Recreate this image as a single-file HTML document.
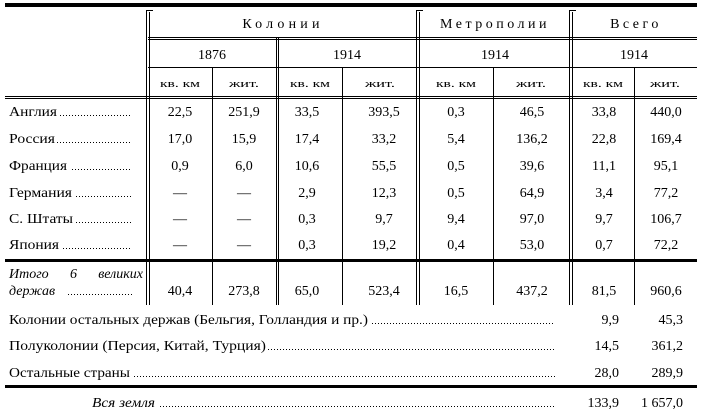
<!DOCTYPE html>
<html><head><meta charset="utf-8"><style>
html,body{margin:0;padding:0;background:#fff;}
svg{display:block;}
text{font-family:"Liberation Serif","DejaVu Serif",serif;font-size:14px;fill:#000;}
.s{font-size:11px;}
.h{letter-spacing:3.5px;}
.i{font-style:italic;}
.d{stroke:#000;stroke-width:1;stroke-dasharray:1 2;}
</style></head><body>
<svg width="702" height="416" viewBox="0 0 702 416" xmlns="http://www.w3.org/2000/svg">
<g stroke="#000" fill="none">
<rect x="5" y="3" width="692" height="4" fill="#000" stroke="none"/>
<rect x="5" y="259" width="692" height="3" fill="#000" stroke="none"/>
<rect x="5" y="385" width="692" height="3" fill="#000" stroke="none"/>
<line x1="148" y1="37.5" x2="697" y2="37.5"/>
<line x1="148" y1="39.5" x2="697" y2="39.5"/>
<line x1="148" y1="67.5" x2="697" y2="67.5"/>
<line x1="5" y1="96.5" x2="697" y2="96.5"/>
<line x1="5" y1="98.5" x2="697" y2="98.5"/>
<line x1="146.5" y1="10" x2="146.5" y2="305"/>
<line x1="149.5" y1="12" x2="149.5" y2="305"/>
<line x1="146" y1="10.5" x2="153" y2="10.5"/>
<line x1="416.5" y1="10" x2="416.5" y2="305"/>
<line x1="419.5" y1="12" x2="419.5" y2="305"/>
<line x1="416" y1="10.5" x2="423" y2="10.5"/>
<line x1="569.5" y1="10" x2="569.5" y2="305"/>
<line x1="572.5" y1="12" x2="572.5" y2="305"/>
<line x1="569" y1="10.5" x2="576" y2="10.5"/>
<line x1="276.5" y1="38" x2="276.5" y2="305"/>
<line x1="278.5" y1="38" x2="278.5" y2="305"/>
<line x1="212.5" y1="67" x2="212.5" y2="305"/>
<line x1="342.5" y1="67" x2="342.5" y2="305"/>
<line x1="493.5" y1="67" x2="493.5" y2="305"/>
<line x1="634.5" y1="67" x2="634.5" y2="305"/>
</g>
<g text-anchor="middle">
<text x="283" y="28" class="h" style="letter-spacing:4.2px">Колонии</text>
<text x="495" y="28" class="h">Метрополии</text>
<text x="636" y="28" class="h">Всего</text>
<text x="212" y="59">1876</text>
<text x="347" y="59">1914</text>
<text x="495" y="59">1914</text>
<text x="634" y="59">1914</text>
</g>
<g class="s">
<text x="160" y="87" class="s" textLength="40" lengthAdjust="spacingAndGlyphs">кв. км</text>
<text x="229" y="87" class="s" textLength="30" lengthAdjust="spacingAndGlyphs">жит.</text>
<text x="290" y="87" class="s" textLength="40" lengthAdjust="spacingAndGlyphs">кв. км</text>
<text x="365" y="87" class="s" textLength="30" lengthAdjust="spacingAndGlyphs">жит.</text>
<text x="436" y="87" class="s" textLength="40" lengthAdjust="spacingAndGlyphs">кв. км</text>
<text x="516" y="87" class="s" textLength="30" lengthAdjust="spacingAndGlyphs">жит.</text>
<text x="583" y="87" class="s" textLength="40" lengthAdjust="spacingAndGlyphs">кв. км</text>
<text x="650" y="87" class="s" textLength="30" lengthAdjust="spacingAndGlyphs">жит.</text>
</g>
<text x="9" y="116" textLength="48" lengthAdjust="spacingAndGlyphs">Англия</text><line class="d" x1="60" y1="115.5" x2="132" y2="115.5"/>
<text x="9" y="143" textLength="46" lengthAdjust="spacingAndGlyphs">Россия</text><line class="d" x1="57" y1="142.5" x2="132" y2="142.5"/>
<text x="9" y="170" textLength="58" lengthAdjust="spacingAndGlyphs">Франция</text><line class="d" x1="72" y1="169.5" x2="132" y2="169.5"/>
<text x="9" y="197" textLength="63" lengthAdjust="spacingAndGlyphs">Германия</text><line class="d" x1="76" y1="196.5" x2="132" y2="196.5"/>
<text x="9" y="223" textLength="64" lengthAdjust="spacingAndGlyphs">С. Штаты</text><line class="d" x1="76" y1="222.5" x2="132" y2="222.5"/>
<text x="9" y="249" textLength="50" lengthAdjust="spacingAndGlyphs">Япония</text><line class="d" x1="63" y1="248.5" x2="132" y2="248.5"/>
<text x="9" y="278" class="i">Итого</text><text x="70" y="278" class="i">6</text><text x="143" y="278" class="i" text-anchor="end">великих</text>
<text x="9" y="295" class="i">держав</text><line class="d" x1="68" y1="294.5" x2="132" y2="294.5"/>
<g text-anchor="middle">
<text x="180" y="116">22,5</text><text x="244" y="116">251,9</text><text x="307" y="116">33,5</text><text x="384" y="116">393,5</text><text x="456" y="116">0,3</text><text x="532" y="116">46,5</text><text x="604" y="116">33,8</text><text x="666" y="116">440,0</text>
<text x="180" y="143">17,0</text><text x="244" y="143">15,9</text><text x="307" y="143">17,4</text><text x="384" y="143">33,2</text><text x="456" y="143">5,4</text><text x="532" y="143">136,2</text><text x="604" y="143">22,8</text><text x="666" y="143">169,4</text>
<text x="180" y="170">0,9</text><text x="244" y="170">6,0</text><text x="307" y="170">10,6</text><text x="384" y="170">55,5</text><text x="456" y="170">0,5</text><text x="532" y="170">39,6</text><text x="604" y="170">11,1</text><text x="666" y="170">95,1</text>
<text x="180" y="197">—</text><text x="244" y="197">—</text><text x="307" y="197">2,9</text><text x="384" y="197">12,3</text><text x="456" y="197">0,5</text><text x="532" y="197">64,9</text><text x="604" y="197">3,4</text><text x="666" y="197">77,2</text>
<text x="180" y="223">—</text><text x="244" y="223">—</text><text x="307" y="223">0,3</text><text x="384" y="223">9,7</text><text x="456" y="223">9,4</text><text x="532" y="223">97,0</text><text x="604" y="223">9,7</text><text x="666" y="223">106,7</text>
<text x="180" y="249">—</text><text x="244" y="249">—</text><text x="307" y="249">0,3</text><text x="384" y="249">19,2</text><text x="456" y="249">0,4</text><text x="532" y="249">53,0</text><text x="604" y="249">0,7</text><text x="666" y="249">72,2</text>
<text x="180" y="295">40,4</text><text x="244" y="295">273,8</text><text x="307" y="295">65,0</text><text x="384" y="295">523,4</text><text x="456" y="295">16,5</text><text x="532" y="295">437,2</text><text x="604" y="295">81,5</text><text x="666" y="295">960,6</text>
</g>
<text x="9" y="324" textLength="359" lengthAdjust="spacingAndGlyphs">Колонии остальных держав (Бельгия, Голландия и пр.)</text><line class="d" x1="372" y1="323.5" x2="555" y2="323.5"/>
<text x="9" y="350" textLength="257" lengthAdjust="spacingAndGlyphs">Полуколонии (Персия, Китай, Турция)</text><line class="d" x1="268" y1="349.5" x2="555" y2="349.5"/>
<text x="9" y="377" textLength="121" lengthAdjust="spacingAndGlyphs">Остальные страны</text><line class="d" x1="134" y1="376.5" x2="555" y2="376.5"/>
<text x="92" y="407" class="i" textLength="63" lengthAdjust="spacingAndGlyphs">Вся земля</text><line class="d" x1="160" y1="406.5" x2="555" y2="406.5"/>
<g text-anchor="end">
<text x="619" y="324">9,9</text><text x="683" y="324">45,3</text>
<text x="619" y="350">14,5</text><text x="683" y="350">361,2</text>
<text x="619" y="377">28,0</text><text x="683" y="377">289,9</text>
<text x="619" y="407">133,9</text><text x="683" y="407">1 657,0</text>
</g>
</svg>
</body></html>
